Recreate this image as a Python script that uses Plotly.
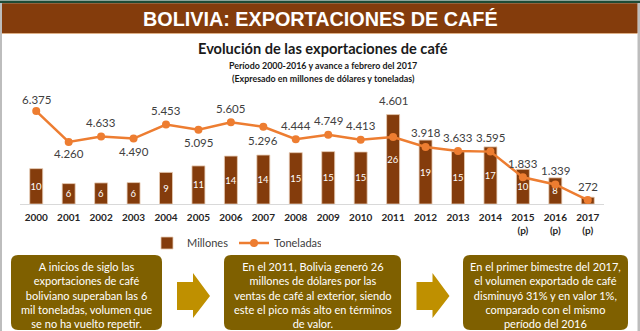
import plotly.graph_objects as go

# ---------------- data ----------------
years = ["2000", "2001", "2002", "2003", "2004", "2005", "2006", "2007", "2008",
         "2009", "2010", "2011", "2012", "2013", "2014", "2015", "2016", "2017"]
year_labels = ["2000", "2001", "2002", "2003", "2004", "2005", "2006", "2007", "2008",
               "2009", "2010", "2011", "2012", "2013", "2014", "2015<br>(p)", "2016<br>(p)", "2017<br>(p)"]
millones = [10.4, 6.0, 6.2, 6.3, 9.3, 11.2, 14.1, 14.4, 15.1, 15.4, 15.3, 26.3, 18.8, 15.4, 16.8, 10.2, 7.7, 2.0]
toneladas = [6375, 4260, 4633, 4490, 5453, 5095, 5605, 5296, 4444, 4749, 4413, 4601, 3918, 3633, 3595, 1833, 1339, 272]

header_title = "BOLIVIA: EXPORTACIONES DE CAFÉ"
chart_title = "Evolución de las exportaciones de café"
sub1 = "Período 2000-2016 y avance a febrero del 2017"
sub2 = "(Expresado en millones de dólares y toneladas)"
box_texts = [
    "A inicios de siglo las<br>exportaciones de café<br>boliviano superaban las 6<br>mil toneladas, volumen que<br>se no ha vuelto repetir.",
    "En el 2011, Bolivia generó 26<br>millones de dólares por las<br>ventas de café al exterior, siendo<br>este el pico más alto en términos<br>de valor.",
    "En el primer bimestre del 2017,<br>el volumen exportado de café<br>disminuyó 31% y en valor 1%,<br>comparado con el mismo<br>período del 2016",
]

# label placement style (pixel offsets of the tonnage labels from their markers)
label_shift = [12, -12, 14, -13, 14, -13, 14, -14, 14, 14, 14, 36, 14, 14, 14, 14, 14, 14]

# ---------------- layout geometry ----------------
W, H = 640, 331
ML, MR, MT, MB = 20, 36, 102, 127
PW = W - ML - MR
PH = H - MT - MB


def X(px):
    return (px - ML) / PW


def Y(py):
    return (H - MB - py) / PH


FONT = "Lato"
BROWN = "#843C0C"
ORANGE = "#ED7D31"
OLIVE = "#7F6000"
GOLD = "#BF9000"

bar_text = [f"{v:.0f}" if v >= 3 else "" for v in millones]
line_text = [f"{v:,}".replace(",", ".") for v in toneladas]

fig = go.Figure()
fig.add_trace(go.Bar(
    x=years, y=millones, name="Millones", yaxis="y",
    marker=dict(color=BROWN, line=dict(color="#E8CDB5", width=0.8)),
    width=0.4, text=bar_text, textposition="inside", insidetextanchor="middle",
    textangle=0, constraintext="none",
    textfont=dict(color="white", size=9.5, family=FONT),
    cliponaxis=False,
))
fig.add_trace(go.Scatter(
    x=years, y=toneladas, name="Toneladas", yaxis="y2",
    mode="lines+markers",
    line=dict(color=ORANGE, width=2.5),
    marker=dict(color=ORANGE, size=8),
    cliponaxis=False,
))


def rrect(x0, y0, x1, y1, r):
    rx = r / PW
    ry = r / PH
    a, b, c, d = X(x0), X(x1), Y(y0), Y(y1)
    return (f"M{a+rx},{c} L{b-rx},{c} Q{b},{c} {b},{c-ry} L{b},{d+ry} Q{b},{d} {b-rx},{d} "
            f"L{a+rx},{d} Q{a},{d} {a},{d+ry} L{a},{c-ry} Q{a},{c} {a+rx},{c} Z")


def arrow(x0, tip):
    xs = x0 + 16
    pts = [(x0, 282), (xs, 282), (xs, 273), (tip, 296), (xs, 318), (xs, 310), (x0, 310)]
    return "M" + " L".join(f"{X(px)},{Y(py)}" for px, py in pts) + " Z"


shapes = [
    dict(type="rect", xref="paper", yref="paper", x0=X(0), x1=X(640), y0=Y(0.5), y1=Y(3.2),
         fillcolor="#1F4B36", line_width=0, layer="below"),
    dict(type="rect", xref="paper", yref="paper", x0=X(0), x1=X(2), y0=Y(3), y1=Y(331),
         fillcolor="#BDBDBD", line_width=0, layer="below"),
    dict(type="rect", xref="paper", yref="paper", x0=X(637.5), x1=X(640), y0=Y(3), y1=Y(331),
         fillcolor="#BDBDBD", line_width=0, layer="below"),
    dict(type="rect", xref="paper", yref="paper", x0=X(2), x1=X(637.5), y0=Y(3.2), y1=Y(33),
         fillcolor=BROWN, line_width=0, layer="below"),
    dict(type="rect", xref="paper", yref="paper", x0=X(2), x1=X(637.5), y0=Y(33), y1=Y(34),
         fillcolor="#DDAF86", line_width=0, layer="below"),
    dict(type="path", xref="paper", yref="paper", path=rrect(11, 255, 162, 330, 7),
         fillcolor=OLIVE, line_width=0),
    dict(type="path", xref="paper", yref="paper", path=rrect(224, 255, 401, 330, 7),
         fillcolor=OLIVE, line_width=0),
    dict(type="path", xref="paper", yref="paper", path=rrect(463, 255, 628, 330, 7),
         fillcolor=OLIVE, line_width=0),
    dict(type="path", xref="paper", yref="paper", path=arrow(177, 210),
         fillcolor=GOLD, line_width=0),
    dict(type="path", xref="paper", yref="paper", path=arrow(416.5, 449.5),
         fillcolor=GOLD, line_width=0),
]

annotations = [
    dict(text=f"<b>{header_title}</b>", x=X(320), y=Y(18.5), xref="paper", yref="paper",
         showarrow=False, font=dict(family="Liberation Sans", size=19.8, color="white"),
         xanchor="center", yanchor="middle"),
    dict(text=f"<b>{chart_title}</b>", x=X(323), y=Y(48), xref="paper", yref="paper",
         showarrow=False, font=dict(family=FONT, size=14.6, color="#1a1a1a"),
         xanchor="center", yanchor="middle"),
    dict(text=f"<b>{sub1}</b>", x=X(323), y=Y(65.5), xref="paper", yref="paper",
         showarrow=False, font=dict(family=FONT, size=8.9, color="#1a1a1a"),
         xanchor="center", yanchor="middle"),
    dict(text=f"<b>{sub2}</b>", x=X(323), y=Y(78.5), xref="paper", yref="paper",
         showarrow=False, font=dict(family=FONT, size=8.9, color="#1a1a1a"),
         xanchor="center", yanchor="middle"),
]
for cx, t in zip([86.5, 312.5, 545.5], box_texts):
    annotations.append(dict(text=t, x=X(cx), y=Y(294.5), xref="paper", yref="paper",
                            showarrow=False, align="center",
                            font=dict(family=FONT, size=11, color="white"),
                            xanchor="center", yanchor="middle"))
# tonnage labels: x given as the category index on the category axis
for i, (v, t, s) in enumerate(zip(toneladas, line_text, label_shift)):
    annotations.append(dict(text=t, x=i, y=v, xref="x", yref="y2", yshift=s,
                            showarrow=False, xanchor="center", yanchor="middle",
                            font=dict(family=FONT, size=11.5, color="#404040")))

fig.update_layout(
    width=W, height=H, autosize=False,
    margin=dict(l=ML, r=MR, t=MT, b=MB, pad=0, autoexpand=False),
    paper_bgcolor="white", plot_bgcolor="white",
    font=dict(family=FONT, color="#404040"),
    bargap=0.6,
    xaxis=dict(type="category", tickmode="array", tickvals=years, ticktext=year_labels,
               range=[-0.5, len(years) - 0.5], autorange=False,
               tickfont=dict(family=FONT, size=10, color="#262626", weight="bold"),
               showline=True, linecolor="#D9D9D9", linewidth=1, ticks="",
               showgrid=False, zeroline=False, ticklabelstandoff=4, automargin=False),
    yaxis=dict(range=[0, 30], autorange=False, visible=False, showgrid=False,
               zeroline=False, automargin=False),
    yaxis2=dict(range=[0, 7000], autorange=False, overlaying="y", side="right", visible=False,
                showgrid=False, zeroline=False, automargin=False),
    showlegend=True,
    legend=dict(orientation="h", x=X(147), y=Y(243), xanchor="left", yanchor="middle",
                font=dict(family=FONT, size=11, color="#404040"), bgcolor="rgba(0,0,0,0)",
                itemwidth=30, entrywidth=42, entrywidthmode="pixels", traceorder="normal"),
    shapes=shapes, annotations=annotations,
)

fig.write_html("out.html")
